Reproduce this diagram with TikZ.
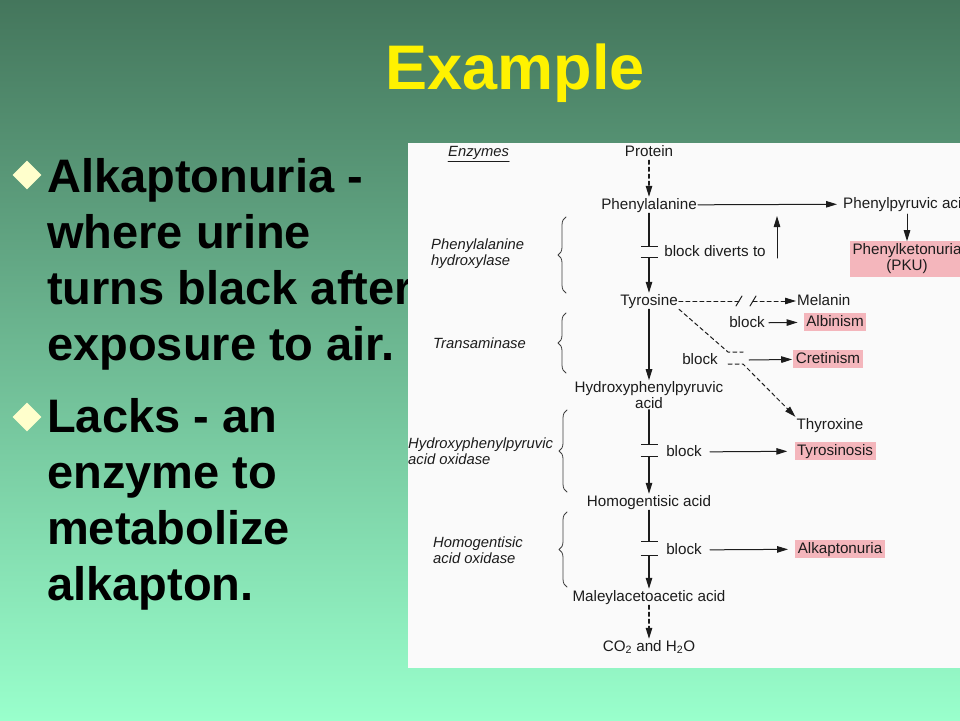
\documentclass[tikz,border=0pt]{standalone}
\usepackage{fontspec}
\setmainfont{Liberation Sans}
\usepackage{tikz}
\usetikzlibrary{arrows.meta,
                decorations.pathreplacing,
                positioning,
                shapes.geometric,}
\definecolor{bgtop}{RGB}{68,118,92}
\definecolor{bgbot}{RGB}{153,255,204}
\definecolor{fafafa}{RGB}{250,250,250}
\definecolor{ffffcc}{RGB}{255,255,204}
\definecolor{pinkbox}{RGB}{244,182,188}
\definecolor{ink}{RGB}{28,28,28}

\begin{document}
\begin{tikzpicture}[line cap=round,line join=round,x=1pt,y=-1pt,
  tri/.tip={Triangle[length=11pt,width=6.5pt]},
  txt/.style={font=\fontsize{15.2}{16}\selectfont,text=ink,inner sep=1pt},
  cmpd/.style={txt,text height=11pt,text depth=3pt},
  enzl/.style={font=\fontsize{14.8}{16}\selectfont\itshape,align=left,anchor=west,text=ink,inner sep=0pt},
  sick/.style={cmpd,fill=pinkbox,inner xsep=2.5pt,inner ysep=2pt,text height=11pt,text depth=3pt},
  arr/.style={-tri,line width=1.2pt,color=ink},
  dsh/.style={arr,dash pattern=on 4pt off 3pt},
  blk/.style={line width=1.2pt,color=ink},
  brc/.style={decorate,decoration={brace,amplitude=8pt},line width=0.8pt,color=ink!85},
  bult/.style={font=\fontsize{47}{56}\selectfont\bfseries,align=left,anchor=base west,inner sep=0pt},
  dia/.style={diamond,fill=ffffcc,inner sep=0pt,minimum width=29pt,minimum height=29pt}]
\useasboundingbox (0,0) rectangle (960,720);
\clip (0,0) rectangle (960,720);
\shade[top color=bgtop,bottom color=bgbot] (0,0) rectangle (960,720);
%\draw (0,0) grid (960,720);
\node[font=\fontsize{63}{70}\selectfont\bfseries,text=yellow,anchor=base] (ttl) at (515,89) {Example};
\node[dia] (dia1) at (27,175) {};
\node[bult] (bul1) at (47,360) {Alkaptonuria -\\where urine\\turns black after\\exposure to air.};
\node[dia] (dia2) at (27,417) {};
\node[bult] (bul2) at (47,600) {Lacks - an\\enzyme to\\metabolize\\alkapton.};
\fill[color=fafafa] (408,143) rectangle (960,668);
\node[enzl] (enz) at (448,153) {Enzymes};
\draw[line width=0.8pt,color=ink] ([yshift=-2pt]enz.south west) -- ([yshift=-2pt]enz.south east);
\node[enzl] (phh) at (431,254) {Phenylalanine\\hydroxylase};
\node[enzl] (trans) at (433,343) {Transaminase};
\node[enzl] (hppo) at (408,451) {Hydroxyphenylpyruvic\\acid oxidase};
\node[enzl] (hgo) at (433,550) {Homogentisic\\acid oxidase};
\draw[brc] (566,293) -- (566,217);
\draw[brc] (566,373) -- (566,313);
\draw[brc] (567,492) -- (567,410);
\draw[brc] (567,587) -- (567,512);
\node[cmpd] (prot) at (649,152) {Protein};
\node[cmpd] (phe) at (649,205) {Phenylalanine};
\node[cmpd,anchor=west] (ppa) at (842,204) {Phenylpyruvic acid};
\node[txt,fill=pinkbox,align=center,inner xsep=3pt,inner ysep=2.5pt] (pku) at (907,259) {Phenylketonuria\\(PKU)};
\node[cmpd] (tyr) at (649,301) {Tyrosine};
\node[cmpd,anchor=west] (mel) at (796,301) {Melanin};
\node[sick] (alb) at (835,322) {Albinism};
\node[sick] (cret) at (828,359) {Cretinism};
\node[txt,align=center] (hpp) at (649,395) {Hydroxyphenylpyruvic\\acid};
\node[cmpd] (thy) at (830,425) {Thyroxine};
\node[sick] (tyrs) at (835,451) {Tyrosinosis};
\node[cmpd] (hga) at (649,502) {Homogentisic acid};
\node[sick] (alk) at (840,549) {Alkaptonuria};
\node[cmpd] (maa) at (649,597) {Maleylacetoacetic acid};
\node[cmpd] (co2) at (649,647) {CO\textsubscript{2} and H\textsubscript{2}O};
\node[cmpd] (bdiv) at (715,252) {block diverts to};
\node[cmpd] (bAlb) at (747,323) {block};
\node[cmpd] (bCre) at (700,360) {block};
\node[cmpd] (bTys) at (684,452) {block};
\node[cmpd] (bAlk) at (684,550) {block};
\coordinate (b1a) at (649,247);
\coordinate (b1b) at (649,257);
\coordinate (b2a) at (649,445);
\coordinate (b2b) at (649,456);
\coordinate (b3a) at (649,542);
\coordinate (b3b) at (649,555);
\coordinate (upb) at (777,258);
\coordinate (upt) at (777,216);
\coordinate (mlA) at (739,301);
\coordinate (mlB) at (753,301);
\coordinate (dgA) at (728,352);
\coordinate (dgAe) at (743,352);
\coordinate (dgB) at (728,364);
\coordinate (dgBe) at (743,364);
\coordinate (crA) at (749,360);
\draw[dsh] (prot) -- (phe);
\draw[arr,line width=1pt,shorten >=5pt] (phe) -- (ppa);
\draw[arr,line width=1pt,shorten <=2pt] (ppa.south -| pku) -- (pku);
\draw[arr,line width=1pt] (upb) -- (upt);
\draw[blk,-{Bar[width=17pt]}] (phe) -- (b1a);
\draw[arr,{Bar[width=17pt]}-tri] (b1b) -- (tyr);
\draw[arr] (tyr) -- (hpp);
\draw[blk,-{Bar[width=17pt]}] (hpp) -- (b2a);
\draw[arr,{Bar[width=17pt]}-tri] (b2b) -- (hga);
\draw[blk,-{Bar[width=17pt]}] (hga) -- (b3a);
\draw[arr,{Bar[width=17pt]}-tri] (b3b) -- (maa);
\draw[dsh] (maa) -- (co2);
\draw[blk,line width=1pt,dash pattern=on 4pt off 3pt] (tyr.east) -- (mlA);
\draw[blk,line width=1pt] ([shift={(-3,5)}]mlA) -- ([shift={(3,-5)}]mlA);
\draw[blk,line width=1pt] ([shift={(-3,5)}]mlB) -- ([shift={(3,-5)}]mlB);
\draw[dsh,line width=1pt] (mlB) -- (mel);
\draw[blk,line width=1pt,dash pattern=on 4pt off 3pt] (tyr.south east) -- (dgA) -- (dgAe);
\draw[dsh,line width=1pt] (dgB) -- (dgBe) -- (thy.north west);
\draw[arr,line width=1pt,shorten <=3pt,shorten >=6pt] (bAlb) -- (alb);
\draw[arr,line width=1pt,shorten >=1pt] (crA) -- (cret);
\draw[arr,line width=1pt,shorten <=7pt,shorten >=7pt] (bTys) -- (tyrs);
\draw[arr,line width=1pt,shorten <=7pt,shorten >=7pt] (bAlk) -- (alk);
\end{tikzpicture}
\end{document}
